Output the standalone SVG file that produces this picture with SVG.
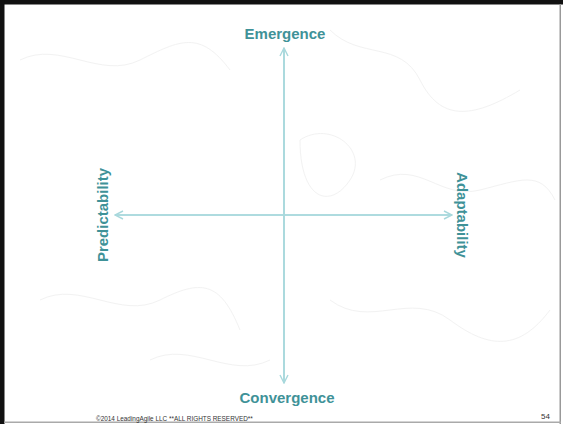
<svg xmlns="http://www.w3.org/2000/svg" width="563" height="424" viewBox="0 0 563 424">
<style>
.lbl{font-family:"Liberation Sans",Arial,sans-serif;font-weight:bold;font-size:15px;fill:#3f9298;text-anchor:middle}
.axis{stroke:#a8d8dc;stroke-width:1.6;fill:none}
.topo{stroke:#f2f2f2;stroke-width:1;fill:none}
.foot{font-family:"Liberation Sans",Arial,sans-serif;fill:#333}
</style>
<defs>
<marker id="arr" viewBox="0 0 10 10" refX="9" refY="5" markerWidth="10" markerHeight="10" markerUnits="userSpaceOnUse" orient="auto">
<path d="M1,1 L9,5 L1,9" fill="none" stroke="#a8d8dc" stroke-width="1.4"/>
</marker>
</defs>
<rect width="563" height="424" fill="#ffffff"/>
<g id="background">
<path class="topo" d="M20,60 C60,40 100,80 140,60 S200,30 230,70"/>
<path class="topo" d="M330,30 C360,60 400,40 420,80 S470,120 520,90"/>
<path class="topo" d="M40,300 C80,280 120,320 160,300 S220,280 240,330"/>
<path class="topo" d="M330,300 C370,330 410,290 450,320 S520,350 550,310"/>
<path class="topo" d="M300,140 C330,120 370,150 350,180 S300,200 300,140"/>
<path class="topo" d="M150,360 C190,340 230,380 270,360"/>
<path class="topo" d="M380,180 C420,160 440,200 480,190 S540,170 555,200"/>
</g>
<g id="frame">
<rect x="0" y="0" width="563" height="4.5" fill="#111"/>
<rect x="0" y="0" width="4.5" height="424" fill="#111"/>
<rect x="559.5" y="4" width="1.5" height="420" fill="#999"/>
<rect x="4" y="421.5" width="557" height="1.5" fill="#aaa"/>
</g>
<g id="connectors">
<line class="axis" x1="284" y1="383" x2="284" y2="48" marker-end="url(#arr)"/>
<line class="axis" x1="284" y1="48" x2="284" y2="383" marker-end="url(#arr)"/>
<line class="axis" x1="452" y1="215" x2="115" y2="215" marker-end="url(#arr)"/>
<line class="axis" x1="115" y1="215" x2="452" y2="215" marker-end="url(#arr)"/>
</g>
<g id="emergence"><text class="lbl" x="285" y="39">Emergence</text></g>
<g id="convergence"><text class="lbl" x="287" y="403">Convergence</text></g>
<g id="predictability"><text class="lbl" transform="translate(108,215) rotate(-90)">Predictability</text></g>
<g id="adaptability"><text class="lbl" transform="translate(457,215) rotate(90)">Adaptability</text></g>
<g id="footer">
<text class="foot" x="96" y="421" font-size="6.4">©2014 LeadingAgile LLC **ALL RIGHTS RESERVED**</text>
<text class="foot" x="541" y="419" font-size="8">54</text>
</g>
</svg>
